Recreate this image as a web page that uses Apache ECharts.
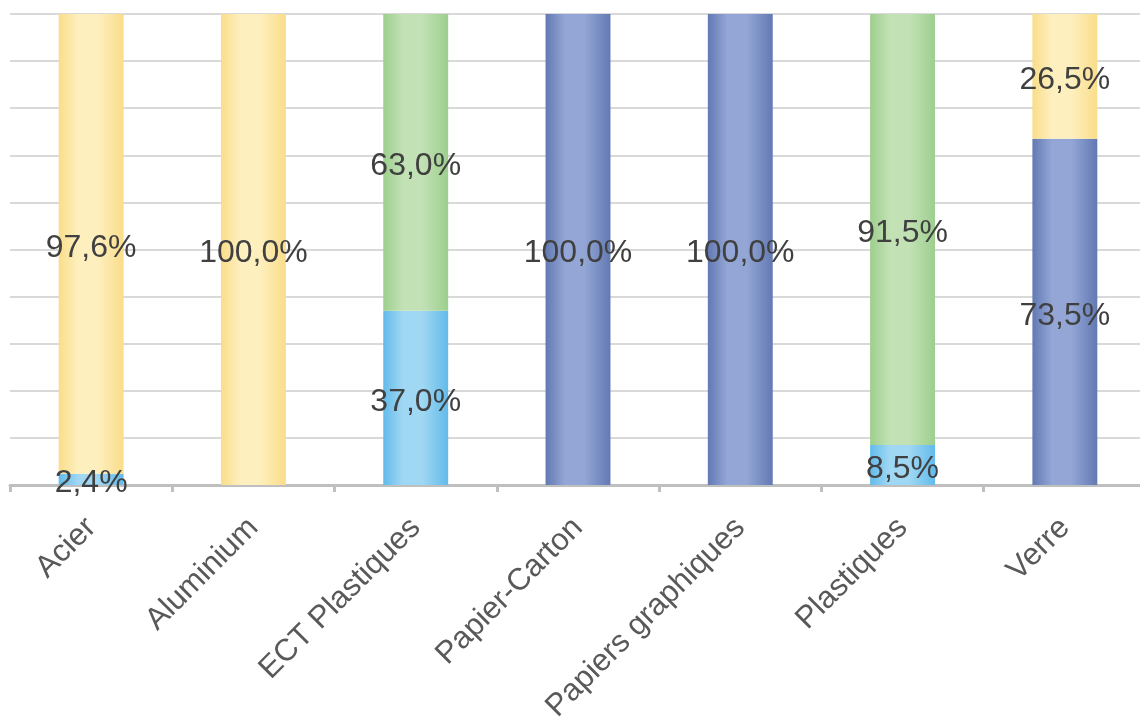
<!DOCTYPE html>
<html>
<head>
<meta charset="utf-8">
<script src="https://cdn.jsdelivr.net/npm/echarts@6/dist/echarts.min.js"></script>
<style>html,body{margin:0;padding:0;background:#fff}#c{width:1140px;height:717px}</style>
</head>
<body>
<div id="c"></div>
<script>
const categories = ['Acier', 'Aluminium', 'ECT Plastiques', 'Papier-Carton', 'Papiers graphiques', 'Plastiques', 'Verre'];
const seriesNames = ['Série 1', 'Série 2', 'Série 3', 'Série 4'];
const lightBlue = [2.4, null, 37.0, null, null, 8.5, null];
const darkBlue = [null, null, null, 100.0, 100.0, null, 73.5];
const green = [null, null, 63.0, null, null, 91.5, null];
const yellow = [97.6, 100.0, null, null, null, null, 26.5];

function grad(edge, mid) {
  return new echarts.graphic.LinearGradient(0, 0, 1, 0, [
    {offset: 0, color: edge}, {offset: 0.3, color: mid}, {offset: 0.6, color: mid}, {offset: 1, color: edge}
  ]);
}
const styles = [
  {edge: '#62BBEB', mid: '#A0D7F3'},
  {edge: '#6279B2', mid: '#93A6D6'},
  {edge: '#9DCF8D', mid: '#C2E1B5'},
  {edge: '#FADD8A', mid: '#FEEFBE'}
];
const datas = [lightBlue, darkBlue, green, yellow];

const chart = echarts.init(document.getElementById('c'));
chart.setOption({
  animation: false,
  grid: {left: 10, right: -6, top: 14, bottom: 232, containLabel: false, outerBoundsMode: 'none'},
  xAxis: {
    type: 'category',
    data: categories,
    axisLine: {lineStyle: {color: '#BFBFBF', width: 3}},
    axisTick: {show: true, length: 7, lineStyle: {color: '#BFBFBF', width: 3}},
    axisLabel: {rotate: 45, fontSize: 31, color: '#595959', fontFamily: 'Liberation Sans, Arial, sans-serif', margin: 38, interval: 0}
  },
  yAxis: {
    type: 'value', min: 0, max: 100, interval: 10,
    axisLabel: {show: false}, axisLine: {show: false}, axisTick: {show: false},
    splitLine: {lineStyle: {color: '#D9D9D9', width: 2}}
  },
  series: datas.map((d, i) => ({
    name: seriesNames[i],
    type: 'bar',
    stack: 'total',
    barWidth: '40%',
    data: d,
    itemStyle: {color: grad(styles[i].edge, styles[i].mid)},
    label: {
      show: true, position: 'inside', fontSize: 32, color: '#404040', offset: [0, 4],
      fontFamily: 'Liberation Sans, Arial, sans-serif',
      formatter: p => p.value == null ? '' : p.value.toFixed(1).replace('.', ',') + '%'
    }
  }))
});
</script>
</body>
</html>
